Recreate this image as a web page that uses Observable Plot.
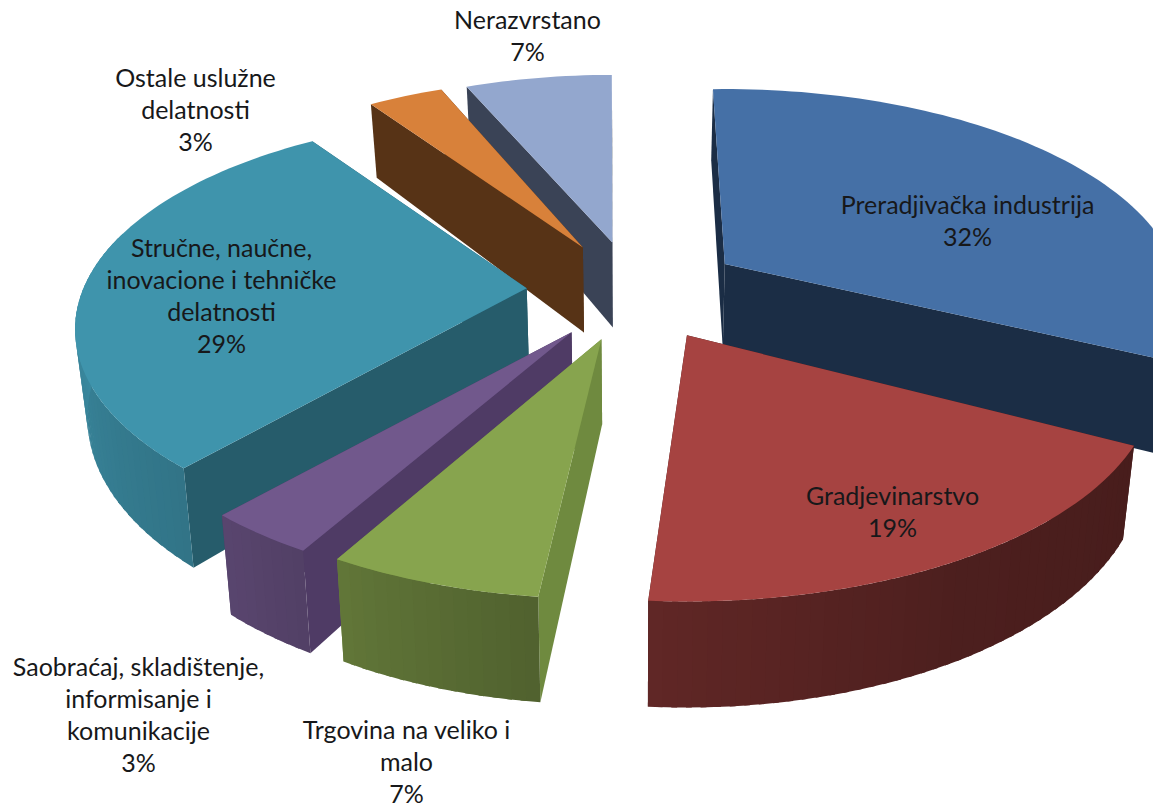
<!DOCTYPE html>
<html><head><meta charset="utf-8">
<style>html,body{margin:0;padding:0;background:#fff;overflow:hidden}svg{display:block}</style>
<script src="https://cdn.jsdelivr.net/npm/d3@7"></script>
<script src="https://cdn.jsdelivr.net/npm/@observablehq/plot@0.6"></script>
</head><body><div id="chart"></div>
<script>
const categories = ["Preradjivačka industrija","Gradjevinarstvo","Trgovina na veliko i\nmalo","Saobraćaj, skladištenje,\ninformisanje i\nkomunikacije","Stručne, naučne,\ninovacione i tehničke\ndelatnosti","Ostale uslužne\ndelatnosti","Nerazvrstano"];
const percentLabels = [32,19,7,3,29,3,7];
const shares = [32.5,18.3,6.3,3.3,29.0,3.3,6.5];
const startAngles = [-1.8,118,186.5,209.7,221.5,325.5,336.5];
const radii = [1,1.02,1,1,0.985,0.96,0.95];
const topColors = ["#4570a6","#a64341","#87a44e","#71588c","#3f94ac","#d8813a","#93a7ce"];
const wallColors = ["#1b2d45","#441a18","#6f8a3f","#4f3b65","#265c6b","#573316","#3a4356"];
const labelX = [967,892,406,138,221,195,527];
const labelY = [219,510,760,713,294,108,34];
const drawOrder = [6,5,0,4,1,3,2];

// 3D pie geometry
const C = {x:634,y:291}, R = 450, A = 209, P = 0.195, E = 0.24, H = 85, CONV = 0.022;
const rad = d => d*Math.PI/180;
const shadeAngles = [90,115,150,184,209,220,270,360];
const shadeFactors = [.65,.43,.46,.58,.72,.78,.93,1];
const shade = d3.scaleLinear().domain(shadeAngles).range(shadeFactors);
const darken = (c,f)=>{const q=d3.rgb(c);return d3.rgb(q.r*f,q.g*f,q.b*f).formatHex();};

const slices = shares.map((v,i)=>{const a0=startAngles[i],a1=a0+v*3.6;return {i,a0,a1,m:(a0+a1)/2,r:radii[i]};});

function pt(s,deg,r,d){
  const ax = C.x+E*R*Math.sin(rad(s.m)), ay = C.y-E*A*Math.cos(rad(s.m));
  const w = -r*s.r*Math.cos(rad(deg)), u = r*s.r*Math.sin(rad(deg));
  const k = 1/(1-w*P);
  let x = ax+u*R*k, y = ay+w*A*k+d*H*k;
  x = C.x+(x-C.x)*(1-CONV*d);
  return [x,y];
}
const rows = []; let id = 0;
const poly = (pts,color)=>{id++;pts.forEach(p=>rows.push({id,x:p[0],y:p[1],color}));};
for (const oi of drawOrder){
  const s = slices[oi];
  const walls = [s.a0,s.a1].sort((p,q)=>(-Math.cos(rad(p)))-(-Math.cos(rad(q))));
  for (const a of walls) poly([pt(s,a,0,0),pt(s,a,1,0),pt(s,a,1,1),pt(s,a,0,1)],wallColors[oi]);
  const n = Math.max(1,Math.round((s.a1-s.a0)/1.5));
  for (let j=0;j<n;j++){
    const b0=s.a0+(s.a1-s.a0)*j/n, b1=s.a0+(s.a1-s.a0)*(j+1)/n, mid=(b0+b1)/2;
    if (mid<85||mid>285) continue;
    const e1=Math.min(s.a1,b1+0.6);
    poly([pt(s,b0,1,0),pt(s,e1,1,0),pt(s,e1,1,1),pt(s,b0,1,1)],darken(topColors[oi],shade(mid)));
  }
  const top=[pt(s,s.a0,0,0)];
  const m=Math.ceil((s.a1-s.a0)/1.5);
  for (let j=0;j<=m;j++) top.push(pt(s,s.a0+(s.a1-s.a0)*j/m,1,0));
  poly(top,topColors[oi]);
}
const labels = categories.map((c,i)=>({text:c+"\n"+percentLabels[i]+"%",x:labelX[i],y:labelY[i]}));

const plot = Plot.plot({
  width:1153,height:807,margin:0,
  x:{domain:[0,1153],range:[0,1153],axis:null},
  y:{domain:[0,807],range:[0,807],axis:null},
  color:{type:"identity"},
  marks:[
    Plot.line(rows,{x:"x",y:"y",z:"id",fill:"color",stroke:null,curve:"linear-closed"}),
    Plot.text(labels,{x:"x",y:"y",text:"text",fill:"#17181a",fontSize:25,lineHeight:1.28,lineAnchor:"middle",textAnchor:"middle",fontFamily:"Lato"})
  ]
});
document.getElementById("chart").append(plot);
</script></body></html>
